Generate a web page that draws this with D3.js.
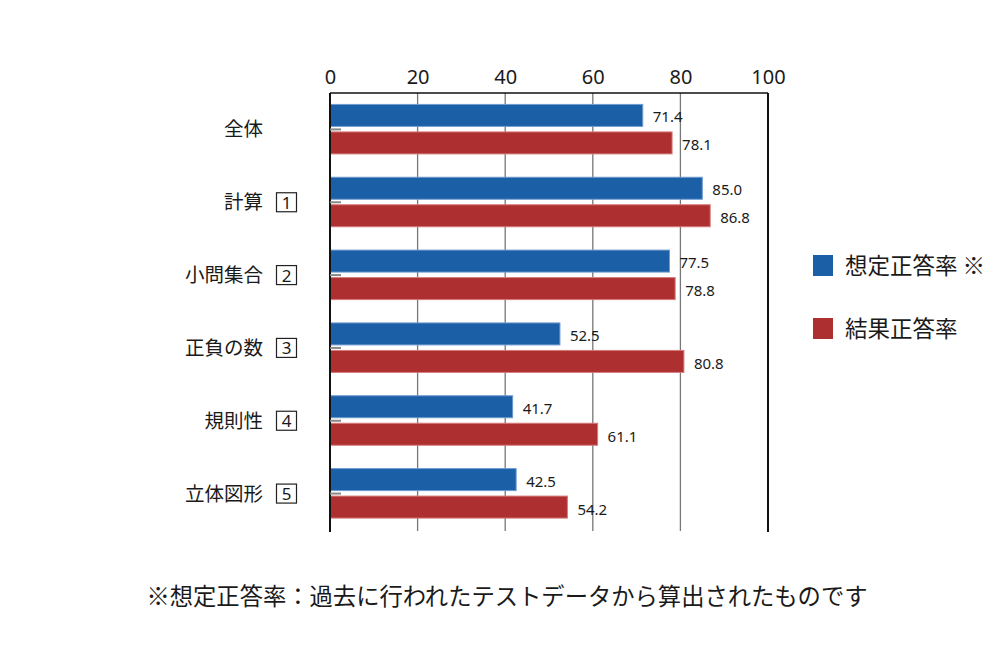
<!DOCTYPE html>
<html>
<head>
<meta charset="utf-8">
<script src="https://cdn.jsdelivr.net/npm/d3@7"></script>
<style>
  body { margin: 0; background: #fff; }
  svg text { font-family: "Noto Sans CJK JP", "Noto Sans", sans-serif; fill: #1a1a1a; }
</style>
</head>
<body>
<svg width="1000" height="660"></svg>
<script>
"use strict";

var categories = ['全体', '計算', '小問集合', '正負の数', '規則性', '立体図形'];
var boxNumbers = ['', '1', '2', '3', '4', '5'];
var expected = [71.4, 85.0, 77.5, 52.5, 41.7, 42.5];
var actual = [78.1, 86.8, 78.8, 80.8, 61.1, 54.2];
var xTicks = [0, 20, 40, 60, 80, 100];
var seriesNames = ['想定正答率 ※', '結果正答率'];
var colors = ['#1b5fa7', '#ae2f2f'];
var strokes = ['#6f9bd0', '#d77a7a'];
var note = '※想定正答率：過去に行われたテストデータから算出されたものです';

var svg = d3.select('svg');

var xScale = d3.scaleLinear()
    .domain([0, 100])
    .range([330, 768]);

var yScale = d3.scaleBand()
    .domain(categories)
    .range([93, 530]);

var series = [expected, actual];

// gridlines
svg.append('g')
    .selectAll('line')
    .data(xTicks.slice(1, -1))
    .enter()
    .append('line')
    .attr('x1', function (d) { return xScale(d); })
    .attr('x2', function (d) { return xScale(d); })
    .attr('y1', 93)
    .attr('y2', 531)
    .attr('stroke', '#777')
    .attr('stroke-width', 1.3);

// top axis labels
var topAxis = d3.axisTop(xScale)
    .tickValues(xTicks)
    .tickSize(0)
    .tickPadding(9);

svg.append('g')
    .attr('transform', 'translate(0,93)')
    .call(topAxis)
    .call(function (g) { g.select('.domain').remove(); })
    .selectAll('text')
    .style('font-family', '"Noto Sans", sans-serif')
    .style('font-size', '20px')
    .attr('fill', '#1a1a1a');

// bars
var barH = 22;
series.forEach(function (vals, s) {
    svg.append('g')
        .selectAll('rect')
        .data(vals)
        .enter()
        .append('rect')
        .attr('x', xScale(0))
        .attr('y', function (d, i) {
            var c = yScale(categories[i]) + yScale.bandwidth() / 2;
            return s === 0 ? c - 25 : c + 2.5;
        })
        .attr('width', function (d) { return xScale(d) - xScale(0); })
        .attr('height', barH)
        .attr('fill', colors[s])
        .attr('stroke', strokes[s])
        .attr('stroke-width', 1);

    svg.append('g')
        .selectAll('text')
        .data(vals)
        .enter()
        .append('text')
        .attr('x', function (d) { return xScale(d) + 10; })
        .attr('y', function (d, i) {
            var c = yScale(categories[i]) + yScale.bandwidth() / 2;
            return s === 0 ? c - 7 : c + 21;
        })
        .style('font-family', '"Noto Sans", sans-serif')
        .style('font-size', '15px')
        .text(function (d) { return d.toFixed(1); });
});

// frame: top, left, right
svg.append('line')
    .attr('x1', xScale(0)).attr('x2', xScale(100))
    .attr('y1', 93).attr('y2', 93)
    .attr('stroke', '#111').attr('stroke-width', 1.5);
svg.append('line')
    .attr('x1', xScale(0)).attr('x2', xScale(0))
    .attr('y1', 93).attr('y2', 532)
    .attr('stroke', '#111').attr('stroke-width', 2);
svg.append('line')
    .attr('x1', xScale(100)).attr('x2', xScale(100))
    .attr('y1', 93).attr('y2', 532)
    .attr('stroke', '#111').attr('stroke-width', 2);

// small left ticks
svg.append('g')
    .selectAll('line')
    .data(categories)
    .enter()
    .append('line')
    .attr('x1', xScale(0))
    .attr('x2', xScale(0) + 11)
    .attr('y1', function (d) { return yScale(d) + yScale.bandwidth() / 2; })
    .attr('y2', function (d) { return yScale(d) + yScale.bandwidth() / 2; })
    .attr('stroke', '#888')
    .attr('stroke-width', 2);

// category labels
var cat = svg.append('g')
    .selectAll('g')
    .data(categories)
    .enter()
    .append('g')
    .attr('transform', function (d) {
        return 'translate(0,' + (yScale(d) + yScale.bandwidth() / 2) + ')';
    });

cat.append('text')
    .attr('x', 263)
    .attr('y', 7)
    .attr('text-anchor', 'end')
    .style('font-size', '19.5px')
    .text(function (d) { return d; });

cat.filter(function (d, i) { return boxNumbers[i] !== ''; })
    .append('rect')
    .attr('x', 276.5)
    .attr('y', -9.5)
    .attr('width', 20)
    .attr('height', 19)
    .attr('fill', 'none')
    .attr('stroke', '#222')
    .attr('stroke-width', 1.2);

cat.filter(function (d, i) { return boxNumbers[i] !== ''; })
    .append('text')
    .attr('x', 286.5)
    .attr('y', 6.5)
    .attr('text-anchor', 'middle')
    .style('font-family', '"Noto Sans", sans-serif')
    .style('font-size', '17px')
    .text(function (d) { return boxNumbers[categories.indexOf(d)]; });

// legend
var legend = svg.append('g')
    .selectAll('g')
    .data(seriesNames)
    .enter()
    .append('g')
    .attr('transform', function (d, i) {
        return 'translate(813,' + (255 + i * 63) + ')';
    });

legend.append('rect')
    .attr('width', 20)
    .attr('height', 21)
    .attr('fill', function (d, i) { return colors[i]; });

legend.append('text')
    .attr('x', 32)
    .attr('y', 19)
    .style('font-size', '22.5px')
    .text(function (d) { return d; });

// footnote
svg.append('text')
    .attr('x', 507)
    .attr('y', 605)
    .attr('text-anchor', 'middle')
    .style('font-size', '23.3px')
    .text(note);
</script>
</body>
</html>
